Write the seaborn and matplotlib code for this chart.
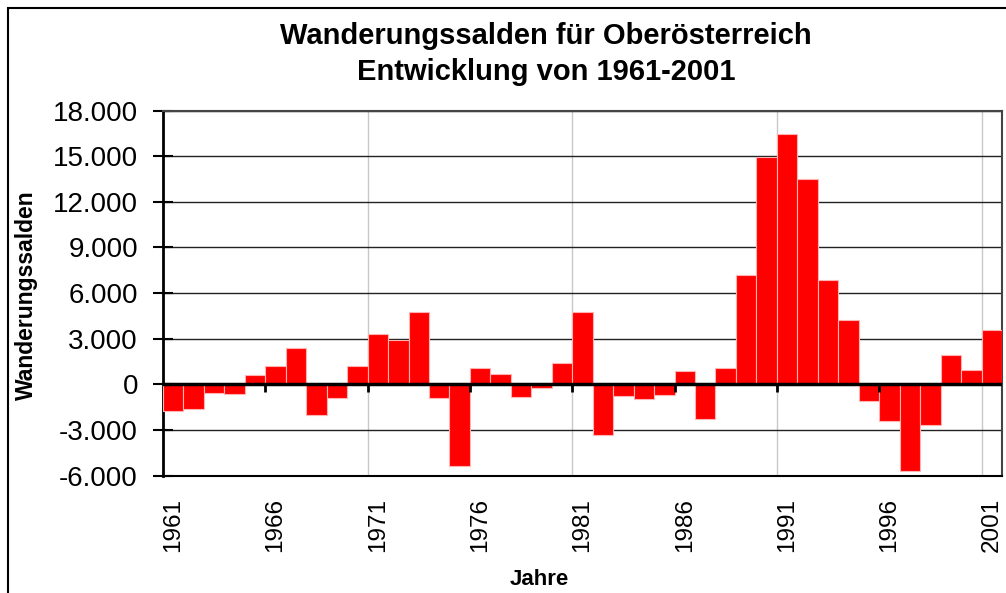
# Wanderungssalden Oberösterreich 1961-2001

import numpy as np
import pandas as pd
import matplotlib
matplotlib.use("Agg")
import matplotlib.pyplot as plt
from matplotlib.patches import Rectangle
from matplotlib.ticker import FuncFormatter
import seaborn as sns

# data
years = list(range(1961, 2002))
saldo = [-1780, -1650, -550, -640, 640, 1180, 2370, -2040, -920, 1200,
         3290, 2920, 4760, -900, -5370, 1050, 700, -810, -240, 1430,
         4760, -3310, -790, -990, -700, 900, -2290, 1070, 7220, 14970,
         16490, 13470, 6840, 4210, -1070, -2390, -5720, -2650, 1950, 920,
         3600]
y_ticks = [-6000, -3000, 0, 3000, 6000, 9000, 12000, 15000, 18000]
label_years = [1961, 1966, 1971, 1976, 1981, 1986, 1991, 1996, 2001]

df = pd.DataFrame({"Jahr": years, "Saldo": saldo})

sns.set_style("white")
plt.rcParams["font.family"] = ["Liberation Sans", "DejaVu Sans"]
plt.rcParams["text.color"] = "black"
plt.rcParams["axes.labelcolor"] = "black"
plt.rcParams["xtick.color"] = "black"
plt.rcParams["ytick.color"] = "black"

fig = plt.figure(figsize=(10.06, 5.93), dpi=100)
ax = fig.add_axes([0.162, 0.198, 0.834, 0.6155])

sns.barplot(data=df, x="Jahr", y="Saldo", color="#ff0000", saturation=1,
            width=1.0, edgecolor="#ffb3b3", linewidth=0.8, ax=ax, zorder=3)

n = len(years)
ax.set_xlim(-0.5, n - 0.5)
ax.set_ylim(-6000, 18000)

# y axis
ax.set_yticks(y_ticks)
ax.yaxis.set_major_formatter(FuncFormatter(lambda v, p: f"{int(v):,}".replace(",", ".")))
ax.tick_params(axis="y", direction="inout", length=14, width=1.5, labelsize=20,
               pad=11, colors="black", left=True)
ax.grid(axis="y", color="#222222", linewidth=1.0, zorder=1)

# x labels at bar centres of every fifth year
pos = [years.index(y) for y in label_years]
ax.set_xticks(pos)
ax.set_xticklabels([str(y) for y in label_years], rotation=90)
ax.tick_params(axis="x", which="major", length=0, labelsize=17.5, pad=16,
               bottom=True, colors="black")

# light vertical grid at the category boundaries 1971, 1981, ...
bounds = np.arange(-0.5, n, 5)
ax.set_xticks(bounds[2::2], minor=True)
ax.tick_params(axis="x", which="minor", length=0)
ax.grid(axis="x", which="minor", color="#c8c8c8", linewidth=1.0, zorder=1)

# zero line with small category ticks
ax.axhline(0, color="black", linewidth=2.5, zorder=4)
ax.vlines(bounds[1:-1], -520, 0, color="black", linewidth=2, zorder=4)

for side in ["top", "right"]:
    ax.spines[side].set_color("#444444")
    ax.spines[side].set_linewidth(1.5)
ax.spines["left"].set_color("black")
ax.spines["left"].set_linewidth(2)
ax.spines["bottom"].set_color("black")
ax.spines["bottom"].set_linewidth(1.5)

ax.set_ylabel("Wanderungssalden", fontsize=16.5, fontweight="bold")
ax.yaxis.set_label_coords(-0.149, 0.495)
ax.set_xlabel("Jahre", fontsize=16, fontweight="bold")
ax.xaxis.set_label_coords(0.449, -0.255)

fig.text(546 / 1006, 1 - 54 / 593,
         "Wanderungssalden für Oberösterreich\nEntwicklung von 1961-2001",
         ha="center", va="center", fontsize=21, fontweight="bold",
         linespacing=1.38)

# outer chart frame
fig.patches.append(Rectangle((8 / 1006, -0.2), 1.2, 1.2 - 8 / 593,
                             transform=fig.transFigure, fill=False,
                             edgecolor="black", linewidth=1.5))

fig.savefig("out.png", dpi=100)
